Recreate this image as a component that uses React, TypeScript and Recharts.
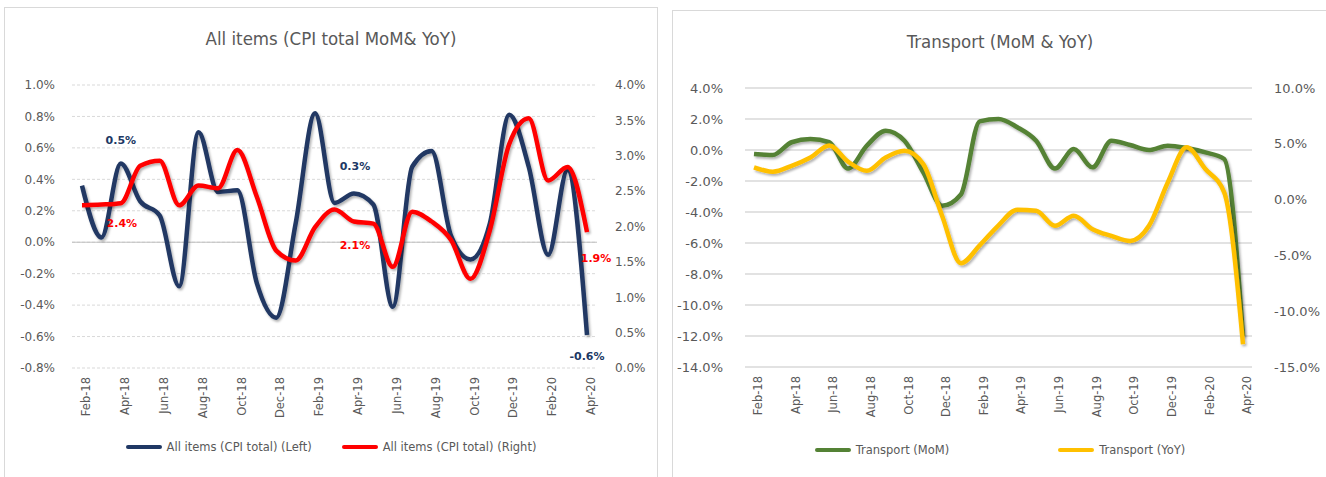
import React from 'react';
import {
  LineChart,
  Line,
  XAxis,
  YAxis,
  CartesianGrid,
  ReferenceLine,
  LabelList,
} from 'recharts';

const months = [
  'Feb-18', 'Mar-18', 'Apr-18', 'May-18', 'Jun-18', 'Jul-18', 'Aug-18', 'Sep-18', 'Oct-18',
  'Nov-18', 'Dec-18', 'Jan-19', 'Feb-19', 'Mar-19', 'Apr-19', 'May-19', 'Jun-19', 'Jul-19',
  'Aug-19', 'Sep-19', 'Oct-19', 'Nov-19', 'Dec-19', 'Jan-20', 'Feb-20', 'Mar-20', 'Apr-20',
];

// All items (CPI total), MoM on left axis, YoY on right axis
const cpiMoM = [
  0.36, 0.03, 0.5, 0.26, 0.17, -0.28, 0.7, 0.32, 0.33, -0.26, -0.48, 0.12, 0.82, 0.25,
  0.31, 0.24, -0.41, 0.48, 0.58, 0.04, -0.11, 0.12, 0.81, 0.48, -0.08, 0.46, -0.59,
];
const cpiYoY = [
  2.3, 2.31, 2.33, 2.86, 2.93, 2.3, 2.58, 2.54, 3.08, 2.42, 1.66, 1.52, 1.99, 2.24,
  2.07, 2.04, 1.43, 2.21, 2.07, 1.81, 1.26, 1.95, 3.17, 3.53, 2.65, 2.84, 1.92,
];

// Transport, MoM on left axis, YoY on right axis
const transportMoM = [
  -0.26, -0.33, 0.5, 0.71, 0.5, -1.2, 0.28, 1.25, 0.6, -1.44, -3.6, -2.87, 1.85, 2.0,
  1.47, 0.6, -1.2, 0.06, -1.12, 0.6, 0.32, 0.0, 0.28, 0.13, -0.15, -0.58, -12.0,
];
const transportYoY = [
  2.89, 2.5, 3.03, 3.78, 4.85, 3.4, 2.58, 3.78, 4.38, 3.18, -1.45, -5.7, -4.1, -2.3,
  -0.9, -1.0, -2.35, -1.45, -2.65, -3.25, -3.7, -2.35, 1.54, 4.68, 2.74, 0.65, -12.96,
];

// data labels shown by Excel
const cpiMoMLabels: Record<string, string> = { 'Apr-18': '0.5%', 'Apr-19': '0.3%', 'Apr-20': '-0.6%' };
const cpiYoYLabels: Record<string, string> = { 'Apr-18': '2.4%', 'Apr-19': '2.1%', 'Apr-20': '1.9%' };

const cpiLeftTicks = [-0.8, -0.6, -0.4, -0.2, 0, 0.2, 0.4, 0.6, 0.8, 1.0];
const cpiRightTicks = [0, 0.5, 1, 1.5, 2, 2.5, 3, 3.5, 4];
const trLeftTicks = [-14, -12, -10, -8, -6, -4, -2, 0, 2, 4];
const trRightTicks = [-15, -10, -5, 0, 5, 10];

const cpiData = months.map((m, i) => ({ month: m, mom: cpiMoM[i], yoy: cpiYoY[i] }));
const trData = months.map((m, i) => ({ month: m, mom: transportMoM[i], yoy: transportYoY[i] }));

const NAVY = '#203864';
const RED = '#FF0000';
const GREEN = '#548235';
const GOLD = '#FFC000';
const GREY = '#595959';
const FONT = '"DejaVu Sans", Verdana, sans-serif';

const pct = (v: number) => `${v.toFixed(1)}%`;

// label offsets relative to the point, per month
const momOffsets: Record<string, [number, number]> = { 'Apr-18': [0, -23], 'Apr-19': [1, -26], 'Apr-20': [0, 22] };
const yoyOffsets: Record<string, [number, number]> = { 'Apr-18': [1, 21], 'Apr-19': [1, 24], 'Apr-20': [9, 27] };

const makeLabel = (labels: Record<string, string>, offsets: Record<string, [number, number]>, color: string) =>
  (props: any) => {
    const m = months[props.index];
    const t = labels[m];
    if (!t) return null;
    const [dx, dy] = offsets[m];
    return (
      <text
        x={props.x + dx}
        y={props.y + dy}
        textAnchor="middle"
        dominantBaseline="middle"
        fontFamily={FONT}
        fontSize={11}
        fontWeight="bold"
        fill={color}
      >
        {t}
      </text>
    );
  };

const xTick = { angle: -90, textAnchor: 'end', verticalAnchor: 'middle', fontSize: 11.5, fill: GREY, fontFamily: FONT };

const Legend2 = ({ items, gap }: { items: { name: string; color: string }[]; gap: number }) => (
  <div
    style={{
      position: 'absolute',
      top: 432,
      left: 0,
      right: 0,
      display: 'flex',
      justifyContent: 'center',
      gap,
      fontFamily: FONT,
      fontSize: 11.5,
      color: GREY,
    }}
  >
    {items.map((it) => (
      <div key={it.name} style={{ display: 'flex', alignItems: 'center' }}>
        <span style={{ width: 36, height: 4, background: it.color, borderRadius: 2, marginRight: 5 }} />
        <span>{it.name}</span>
      </div>
    ))}
  </div>
);

const panelStyle: React.CSSProperties = {
  position: 'absolute',
  border: '1px solid #d9d9d9',
  boxSizing: 'border-box',
  background: '#fff',
};

const titleStyle: React.CSSProperties = {
  position: 'absolute',
  left: 0,
  right: 0,
  textAlign: 'center',
  fontFamily: '"DejaVu Sans Condensed", "Liberation Sans Narrow", sans-serif',
  fontSize: 18.5,
  color: GREY,
};

const Shadow = ({ id }: { id: string }) => (
  <defs>
    <filter id={id} x="-5%" y="-5%" width="110%" height="120%">
      <feDropShadow dx="1.5" dy="2" stdDeviation="1.2" floodColor="#000" floodOpacity="0.3" />
    </filter>
  </defs>
);

const App = () => {
  return (
    <div style={{ position: 'absolute', left: 0, top: 0, width: 1326, height: 477, overflow: 'hidden', background: '#fff' }}>
      {/* left panel */}
      <div style={{ ...panelStyle, left: 4, top: 7, width: 654, height: 480 }}>
        <div style={{ ...titleStyle, top: 20 }}>All items (CPI total MoM&amp; YoY)</div>
        <div style={{ position: 'absolute', left: -1, top: -1 }}>
          <LineChart width={654} height={470} data={cpiData} margin={{ top: 78, right: 0, bottom: 49, left: 0 }}>
            <Shadow id="shL" />
            <CartesianGrid yAxisId="left" vertical={false} stroke="#d9d9d9" strokeDasharray="3 2" />
            <XAxis
              dataKey="month"
              interval={1}
              tick={xTick}
              tickLine={false}
              axisLine={false}
              tickSize={0}
              tickMargin={9}
              height={60}
              padding={{ left: 10, right: 10 }}
            />
            <YAxis
              yAxisId="left"
              domain={[-0.8, 1.0]}
              ticks={cpiLeftTicks}
              tickFormatter={pct}
              width={68}
              tickLine={false}
              axisLine={false}
              tickSize={0}
              tickMargin={17}
              tick={{ fontSize: 12, fill: GREY, fontFamily: FONT }}
            />
            <YAxis
              yAxisId="right"
              orientation="right"
              domain={[0, 4]}
              ticks={cpiRightTicks}
              tickFormatter={pct}
              width={61}
              tickLine={false}
              axisLine={false}
              tickSize={0}
              tickMargin={18}
              tick={{ fontSize: 12, fill: GREY, fontFamily: FONT, textAnchor: 'start' }}
            />
            <ReferenceLine yAxisId="left" y={0} stroke="#bfbfbf" strokeWidth={1} />
            <Line
              yAxisId="left"
              dataKey="mom"
              type="monotone"
              stroke={NAVY}
              strokeWidth={4.5}
              dot={false}
              filter="url(#shL)"
              isAnimationActive={false}
            >
              <LabelList dataKey="mom" content={makeLabel(cpiMoMLabels, momOffsets, NAVY)} />
            </Line>
            <Line
              yAxisId="right"
              dataKey="yoy"
              type="monotone"
              stroke={RED}
              strokeWidth={4.5}
              dot={false}
              filter="url(#shL)"
              isAnimationActive={false}
            >
              <LabelList dataKey="yoy" content={makeLabel(cpiYoYLabels, yoyOffsets, RED)} />
            </Line>
          </LineChart>
        </div>
        <Legend2
          gap={30}
          items={[
            { name: 'All items (CPI total) (Left)', color: NAVY },
            { name: 'All items (CPI total) (Right)', color: RED },
          ]}
        />
      </div>

      {/* right panel */}
      <div style={{ ...panelStyle, left: 672, top: 10, width: 660, height: 480 }}>
        <div style={{ ...titleStyle, top: 20, width: 654 }}>Transport (MoM &amp; YoY)</div>
        <div style={{ position: 'absolute', left: -1, top: -1 }}>
          <LineChart width={654} height={466} data={trData} margin={{ top: 78, right: 0, bottom: 49, left: 0 }}>
            <Shadow id="shR" />
            <CartesianGrid yAxisId="left" vertical={false} stroke="#d9d9d9" strokeWidth={1.5} />
            <XAxis
              dataKey="month"
              interval={1}
              tick={xTick}
              tickLine={false}
              axisLine={false}
              tickSize={0}
              tickMargin={9}
              height={60}
              padding={{ left: 9, right: 9 }}
            />
            <YAxis
              yAxisId="left"
              domain={[-14, 4]}
              ticks={trLeftTicks}
              tickFormatter={pct}
              width={73}
              tickLine={false}
              axisLine={false}
              tickSize={0}
              tickMargin={22}
              tick={{ fontSize: 13, fill: GREY, fontFamily: FONT }}
            />
            <YAxis
              yAxisId="right"
              orientation="right"
              domain={[-15, 10]}
              ticks={trRightTicks}
              tickFormatter={pct}
              width={74}
              tickLine={false}
              axisLine={false}
              tickSize={0}
              tickMargin={22}
              tick={{ fontSize: 13, fill: GREY, fontFamily: FONT, textAnchor: 'start' }}
            />
            <Line
              yAxisId="left"
              dataKey="mom"
              type="monotone"
              stroke={GREEN}
              strokeWidth={4.5}
              dot={false}
              filter="url(#shR)"
              isAnimationActive={false}
            />
            <Line
              yAxisId="right"
              dataKey="yoy"
              type="monotone"
              stroke={GOLD}
              strokeWidth={4.5}
              dot={false}
              filter="url(#shR)"
              isAnimationActive={false}
            />
          </LineChart>
        </div>
        <div style={{ position: 'absolute', left: 0, top: 0, width: 654, height: 480 }}>
          <Legend2
            gap={109}
            items={[
              { name: 'Transport (MoM)', color: GREEN },
              { name: 'Transport (YoY)', color: GOLD },
            ]}
          />
        </div>
      </div>
    </div>
  );
};

export default App;
